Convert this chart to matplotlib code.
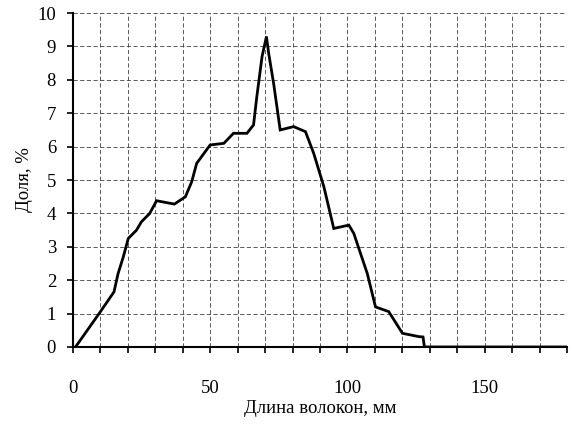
import matplotlib
matplotlib.use("Agg")
import matplotlib.pyplot as plt

# fibre length distribution
length_mm = [1, 10, 15, 16.5, 18.4, 20.2, 23.2, 25, 28, 30.5, 37, 41, 43.3, 45.1,
             50, 55, 58.5, 63.4, 65.8, 67, 68.9, 70.5, 71.3, 73.1, 75.5, 80.4,
             84.7, 87.7, 91.4, 95, 100.5, 102.3, 107.2, 110.2, 115, 120, 126,
             127.5, 128, 180]
share_pct = [0, 1.05, 1.65, 2.2, 2.7, 3.25, 3.5, 3.75, 4.0, 4.38, 4.28, 4.5, 4.95,
             5.5, 6.05, 6.1, 6.4, 6.4, 6.65, 7.5, 8.7, 9.3, 8.8, 7.9, 6.5, 6.6,
             6.45, 5.8, 4.8, 3.55, 3.65, 3.4, 2.2, 1.2, 1.06, 0.41, 0.31,
             0.3, 0, 0]

x_ticks = [0, 50, 100, 150]
y_ticks = list(range(0, 11))

plt.rcParams['font.family'] = ['Liberation Serif', 'DejaVu Serif']

fig = plt.figure(figsize=(5.73, 4.37), dpi=100)
ax = fig.add_axes([0.127, 0.206, 0.863, 0.764])

ax.plot(length_mm, share_pct, color='black', lw=2.0, solid_joinstyle='miter')

ax.set_xlim(0, 180)
ax.set_ylim(0, 10)
ax.set_xticks(x_ticks)
ax.set_xticks(range(0, 181, 10), minor=True)
ax.set_yticks(y_ticks)

# scanned grid is faint and broken
ax.grid(True, which='both', color='0.25', lw=0.6, ls=(0, (5, 3)))
ax.set_axisbelow(True)

for s in ['top', 'right']:
    ax.spines[s].set_visible(False)
for s in ['left', 'bottom']:
    ax.spines[s].set_linewidth(1.5)

ax.tick_params(axis='both', which='both', direction='out', length=4, width=1.2,
               labelsize=13.5, color='black')
ax.tick_params(axis='x', pad=20)
ax.tick_params(axis='y', pad=8)

ax.set_xlabel('Длина волокон, мм', fontsize=13.5, labelpad=2)
ax.set_ylabel('Доля, %', fontsize=13.5, labelpad=3)

fig.savefig('out.png', dpi=100)
